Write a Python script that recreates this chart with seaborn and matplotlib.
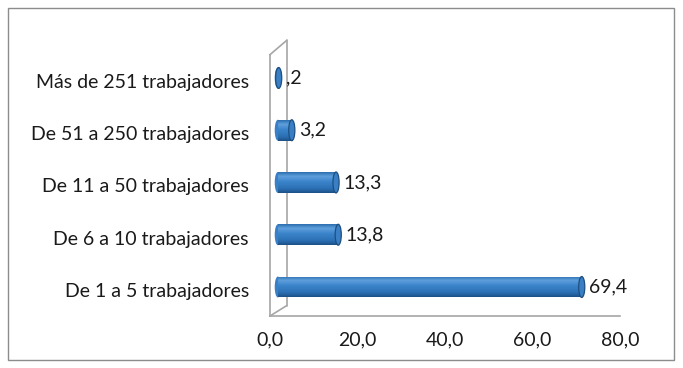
import matplotlib
matplotlib.use("Agg")
import matplotlib.pyplot as plt
import matplotlib.transforms as mtrans
from matplotlib.colors import LinearSegmentedColormap
import seaborn as sns
import numpy as np
import pandas as pd
from matplotlib.patches import Ellipse, Rectangle
from matplotlib.lines import Line2D

categorias = [
    "Más de 251 trabajadores",
    "De 51 a 250 trabajadores",
    "De 11 a 50 trabajadores",
    "De 6 a 10 trabajadores",
    "De 1 a 5 trabajadores",
]
valores = [0.2, 3.2, 13.3, 13.8, 69.4]
etiquetas = [",2", "3,2", "13,3", "13,8", "69,4"]
ticks_x = [0, 20, 40, 60, 80]
ticks_x_txt = ["0,0", "20,0", "40,0", "60,0", "80,0"]

df = pd.DataFrame({"cat": categorias, "val": valores})

sns.set_style("white")
plt.rcParams["font.family"] = ["Lato", "DejaVu Sans"]

fig = plt.figure(figsize=(6.83, 3.68), dpi=100)
ax = fig.add_axes([0.395, 0.141, 0.513, 0.71])

gris = "#a6a6a6"
azul = "#2f78c0"
borde = "#1d4f80"
txt = "#1a1a1a"

# desplazamiento de profundidad (3D)
prof = mtrans.offset_copy(ax.transData, fig=fig, x=8, y=3, units="dots")

sns.barplot(data=df, x="val", y="cat", orient="h", color=azul, width=0.4,
            edgecolor="none", linewidth=0, saturation=1, ax=ax)

cmap = LinearSegmentedColormap.from_list(
    "cil", [(0.0, "#2c6eb0"), (0.2, "#5f9fdc"), (0.45, "#3b84cb"), (0.8, "#2b6fb3"), (1.0, "#1d5088")])
grad = np.linspace(0, 1, 64).reshape(-1, 1)

for i, (bar, v) in enumerate(zip(ax.patches, valores)):
    bar.set_transform(prof)
    bar.set_zorder(2)
    x0, y0, w, h = bar.get_x(), bar.get_y(), bar.get_width(), bar.get_height()
    ax.add_patch(Ellipse((0, i), width=1.4, height=0.4, facecolor="#3a80c6",
                         edgecolor="none", transform=prof, zorder=2.2))
    im = ax.imshow(grad, cmap=cmap, aspect="auto", origin="upper",
                   extent=[x0, x0 + w, y0 + h, y0], transform=prof, zorder=2.5)
    im.set_clip_path(bar)
    ax.add_patch(Ellipse((v, i), width=1.4, height=0.4, facecolor="#3a7fc4",
                         edgecolor=borde, linewidth=0.9, transform=prof, zorder=4))
    ax.text(v + 1.6, i, etiquetas[i], va="center", ha="left", fontsize=14,
            color=txt, transform=prof)

ax.set_xlim(0, 80)
ax.set_ylim(4.5, -0.5)
ax.set_xticks(ticks_x)
ax.set_xticklabels(ticks_x_txt, fontsize=14, color=txt)
ax.set_yticks(range(len(categorias)))
ax.set_yticklabels(categorias, fontsize=14, color=txt)
ax.set_yticks([i - 0.5 for i in range(len(categorias) + 1)], minor=True)
ax.tick_params(axis="y", which="major", length=0, pad=15)
ax.tick_params(axis="y", which="minor", length=7, color=gris, width=1)
ax.tick_params(axis="x", length=5, color=gris, width=1, direction="out", pad=6)
ax.set_xlabel("")
ax.set_ylabel("")

for s in ["top", "right"]:
    ax.spines[s].set_visible(False)
for s in ["left", "bottom"]:
    ax.spines[s].set_color(gris)
    ax.spines[s].set_linewidth(1.2)

# pared trasera (efecto 3D)
tr = ax.transAxes
ax.add_line(Line2D([0.0, 0.048], [1.0, 1.055], transform=tr, color=gris, lw=1.2, clip_on=False))
ax.add_line(Line2D([0.048, 0.048], [1.055, 0.04], transform=tr, color=gris, lw=1.2, clip_on=False, zorder=1))
ax.add_line(Line2D([0.048, 0.0], [0.04, 0.0], transform=tr, color=gris, lw=1.2, clip_on=False))

fig.patches.append(Rectangle((0.012, 0.022), 0.975, 0.955, transform=fig.transFigure,
                             fill=False, edgecolor="#8c8c8c", linewidth=1))

fig.savefig("out.png", dpi=100)
